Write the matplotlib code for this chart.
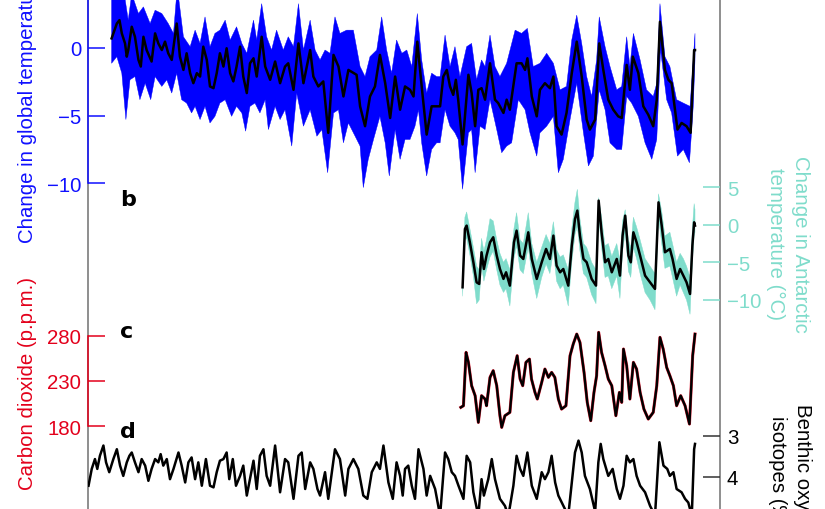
import numpy as np
import matplotlib
matplotlib.use('Agg')
import matplotlib.pyplot as plt

plt.rcParams['font.family'] = ['Liberation Sans', 'DejaVu Sans']

# ---------------- data (ages in kyr before present) ----------------
# a: global temperature change (deg C), mean and 95% band
glob_age = [1998,1980,1971,1963,1952,1946,1941,1929,1918,1906,1898,1889,1878,1861,1849,1838,1826,1815,1804,1792,
            1775,1764,1752,1741,1729,1718,1706,1695,1684,1672,1661,1649,1638,1627,1615,1604,1592,1581,1570,1558,
            1547,1535,1524,1512,1501,1484,1472,1455,1438,1421,1404,1393,1375,1358,1341,1318,1307,1290,1273,1256,
            1238,1221,1204,1187,1159,1147,1130,1113,1096,1079,1061,1044,1027,1010,993,976,964,951,936,919,
            902,885,
            873,862,850,839,828,819,811,796,776,765,753,742,731,719,702,685,674,656,645,634,
            611,594,582,574,559,542,531,514,497,485,474,457,440,422,405,388,371,360,342,328,
            314,297,280,263,251,234,223,213,194,177,160,143,131,120,103,91,80,60,46,29,
            15,3,0]
glob_mean = [0.71,1.81,2.06,1.08,0.34,-0.64,-0.15,1.57,0.83,-0.88,-1.37,0.83,-0.15,-1.0,1.08,0.34,-0.15,0.47,-0.39,-0.88,
             1.81,-0.64,-1.62,-0.39,-1.86,-2.6,-1.86,-2.11,0.1,-0.88,-2.84,-2.97,-1.86,-0.39,-1.37,-0.02,-1.86,-2.47,-1.37,0.1,
             -2.11,-3.33,-1.13,-0.76,-2.11,0.83,-1.37,-2.35,-1.0,-2.6,-1.37,-1.13,-3.09,0.34,-2.6,-0.15,-2.11,-2.84,-2.47,-6.27,
             -0.51,-1.37,-3.58,-1.62,-1.98,-4.31,-5.78,-3.58,-2.84,-0.51,-2.6,-5.17,-2.11,-4.56,-2.84,-3.09,-3.58,0.47,-2.84,-6.4,
             -4.31,-4.31,
             -4.31,-2.11,-1.62,-2.84,-3.46,-2.35,-3.82,-7.13,-1.98,-3.33,-5.78,-3.09,-2.97,-3.82,-1.13,-3.82,-4.07,-4.8,-3.82,-4.56,
             -1.13,-1.13,-1.62,-0.76,-3.58,-5.05,-3.09,-2.6,-2.97,-2.11,-5.78,-6.4,-4.8,-1.86,0.47,-2.11,-5.29,-6.03,-5.29,0.34,
             -1.62,-3.82,-4.56,-5.05,-5.17,-1.25,-3.09,-0.64,-1.86,-4.31,-4.93,-5.78,-3.82,1.94,-1.62,-2.35,-2.6,-6.03,-5.54,-5.78,
             -6.27,-0.15,-0.15]
glob_hi_age = [1998,1992,1958,1941,1929,1906,1889,1866,1849,1826,1804,1786,1773,1752,1729,1712,1695,1678,1661,1644,
               1627,1609,1592,1570,1552,1535,1512,1501,1484,1467,1450,1433,1410,1393,1375,1358,1341,1318,1301,1284,
               1267,1250,1233,1216,1193,1170,1147,1130,1113,1090,1073,1056,1039,1022,1004,987,970,951,936,919,
               902,885,
               873,856,839,822,805,782,765,748,731,719,702,685,668,645,616,594,574,554,531,508,
               485,462,440,422,405,388,371,354,337,328,308,291,268,251,234,223,211,188,166,143,
               131,120,103,86,63,40,17,0]
glob_hi = [4.0,4.5,4.5,2.06,4.0,2.55,3.04,1.81,2.79,2.55,1.81,1.08,4.5,0.83,0.1,1.32,0.34,2.3,0.1,1.08,
           1.32,2.06,0.59,1.57,0.34,-0.39,2.06,0.59,3.28,0.83,-0.15,1.32,-0.15,0.83,0.1,3.28,-0.15,2.06,-0.15,-0.88,
           -0.15,-0.39,2.3,1.08,1.32,1.32,-1.37,-2.11,-0.64,-0.15,2.3,-0.15,-1.86,0.59,-0.39,-0.15,-1.37,2.55,-0.88,-3.33,
           -1.86,-2.11,
           -2.11,0.96,-1.37,0.1,-2.11,0.1,0.34,-2.35,-0.88,-1.37,0.96,-1.37,-2.11,-1.13,1.32,1.08,1.45,-1.37,-1.13,-0.39,
           -1.13,-3.09,-2.84,0.59,2.43,0.34,-2.11,-3.58,-0.88,2.3,0.1,-1.37,-3.09,-2.84,0.83,-1.37,1.08,-0.88,-3.09,-3.58,
           -2.6,3.28,-0.64,-1.37,-3.82,-4.07,-4.31,1.08]
glob_lo_age = [1998,1980,1963,1949,1935,1918,1901,1883,1864,1849,1826,1809,1792,1775,1758,1741,1724,1712,1695,1678,
               1661,1644,1627,1609,1587,1570,1552,1539,1524,1507,1490,1472,1461,1438,1421,1404,1381,1364,1341,1318,
               1295,1278,1258,1238,1221,1204,1187,1164,1147,1136,1119,1101,1079,1061,1047,1027,1010,993,976,959,
               947,936,919,902,885,
               873,856,839,822,811,796,776,765,753,736,719,702,679,662,645,628,605,582,565,542,
               531,508,485,468,451,428,405,382,365,348,328,308,291,268,251,234,217,194,171,148,
               131,118,97,80,60,40,19,6,0]
glob_lo = [-1.13,-0.64,-1.86,-5.29,-2.35,-2.11,-3.82,-2.6,-3.82,-2.11,-2.84,-2.35,-3.33,-1.86,-3.82,-4.07,-4.8,-4.31,-5.29,-4.31,
           -5.54,-5.05,-4.07,-3.82,-5.05,-4.31,-4.8,-6.15,-4.31,-4.07,-4.8,-3.82,-6.03,-4.31,-5.29,-4.56,-7.25,-3.33,-5.78,-4.56,
           -6.52,-6.03,-9.22,-4.8,-4.56,-7.01,-5.54,-6.52,-7.25,-10.32,-8.23,-6.76,-5.05,-7.01,-9.46,-6.03,-8.23,-6.76,-6.76,-5.78,
           -4.56,-7.01,-9.46,-7.5,-7.01,
           -7.01,-4.56,-5.78,-6.27,-6.76,-10.44,-6.27,-6.03,-9.22,-5.78,-6.03,-3.82,-6.03,-7.74,-7.25,-7.01,-3.82,-4.56,-6.27,-7.99,
           -6.27,-5.78,-5.05,-9.22,-8.23,-5.29,-2.6,-6.27,-8.72,-7.99,-3.09,-4.56,-7.01,-7.5,-7.5,-3.58,-4.07,-5.05,-7.01,-8.23,
           -6.76,-0.15,-3.82,-4.8,-7.99,-7.5,-8.48,-4.31,-0.88]

# b: Antarctic temperature change (deg C)
ant_age = [796,788,782,771,759,748,739,731,723,714,702,691,679,668,656,647,634,620,611,599,
           588,571,559,542,525,510,497,485,474,462,451,434,422,411,403,394,382,371,354,339,
           330,320,308,297,285,268,257,248,239,228,220,211,200,188,171,154,137,125,114,103,
           86,77,63,51,40,29,17,9,3,0]
ant_mean = [-8.31,-0.57,-0.12,-2.34,-4.99,-7.65,-7.87,-3.66,-5.88,-4.11,-2.34,-1.67,-4.11,-5.88,-7.2,-6.32,-8.09,-2.34,-0.79,-4.11,
            -4.55,-1.01,-4.55,-7.2,-4.99,-3.22,-4.55,-1.45,-5.43,-6.32,-5.88,-8.09,-2.78,0.76,1.87,-1.45,-4.55,-4.99,-7.2,-8.09,
            3.2,-1.01,-4.99,-4.55,-6.32,-4.55,-6.76,-1.45,1.2,-4.11,-4.99,-1.01,-2.34,-4.11,-6.76,-7.65,-8.53,2.97,-0.12,-3.66,
            -3.22,-4.55,-7.2,-5.88,-6.76,-7.65,-9.2,-2.78,0.32,-0.12]
ant_hi = [-7.0,1.0,1.7,-0.5,-3.0,-5.5,-6.0,-1.8,-3.5,-2.0,0.8,0.5,-2.0,-3.8,-5.0,-4.5,-6.0,-0.5,1.6,-2.0,
          -2.5,1.6,-2.5,-5.0,-3.0,-1.3,-2.5,0.4,-3.3,-4.3,-4.0,-6.0,-0.5,3.0,4.7,0.8,-2.5,-3.0,-5.0,-6.0,
          3.6,1.0,-2.8,-2.5,-4.2,-2.5,-4.7,0.5,2.0,-2.0,-3.0,1.0,-0.3,-2.0,-4.5,-5.5,-6.5,4.1,1.8,-1.5,
          -1.0,-2.5,-5.0,-3.8,-4.5,-5.5,-7.0,-0.5,2.8,2.0]
ant_lo = [-9.5,-2.0,-1.8,-4.0,-6.8,-10.5,-10.0,-5.5,-7.5,-6.0,-4.3,-3.5,-6.0,-8.0,-9.0,-8.5,-10.8,-4.5,-2.8,-6.0,
          -6.5,-3.0,-6.5,-9.8,-7.0,-5.2,-6.5,-3.5,-7.5,-8.5,-8.0,-10.8,-5.0,-1.3,-0.2,-3.5,-6.5,-7.0,-9.3,-10.5,
          1.0,-3.0,-7.0,-6.8,-8.5,-6.8,-9.8,-3.5,-1.0,-6.2,-7.0,-3.0,-4.5,-6.5,-9.0,-10.0,-11.3,1.0,-2.5,-5.8,
          -5.5,-7.0,-9.5,-8.0,-9.0,-10.0,-11.9,-5.0,-1.5,-1.0]

# c: carbon dioxide (p.p.m.)
co2_age = [802,793,784,776,765,753,742,731,719,714,702,691,679,668,662,651,634,622,609,599,
           590,579,567,560,548,540,525,514,502,491,480,468,457,442,428,417,405,394,380,369,
           357,346,337,330,320,308,297,285,271,259,251,245,234,223,211,200,188,175,160,143,
           131,120,109,97,86,74,63,49,34,19,8,0]
co2 = [200.9,202.7,261.6,250.6,224.8,213.8,184.3,213.8,210.1,202.7,234,241.4,224.8,191.7,178.8,191.7,195.4,239.5,257.9,232.2,
       224.8,250.6,254.2,232.2,217.4,210.1,228.5,243.2,234,239.5,234,210.1,199,202.7,257.9,270.8,281.8,272.6,239.5,206.4,
       186.2,217.4,235.8,283.7,261.6,246.9,232.2,224.8,191.7,217.4,206.4,265.3,246.9,210.1,250.6,243.2,217.4,199,188,195.4,
       224.8,278.2,265.3,245,235.8,224.8,202.7,213.8,202.7,182.5,257.9,281.8]

# d: benthic oxygen isotopes (per mil)
d18o_age = [2077,2066,2055,2047,2038,2026,2017,2006,1992,1980,1969,1958,1946,1937,1929,1918,1906,1895,1883,1872,
            1861,1849,1838,1830,1821,1809,1798,1786,1769,1758,1746,1735,1724,1712,1701,1689,1675,1661,1649,1638,
            1627,1615,1604,1595,1583,1572,1558,1547,1535,1524,1512,1501,1490,1478,1467,1455,1438,1421,1404,1393,
            1375,1358,1347,1335,1318,1307,1293,1284,1267,1256,1233,1216,1198,1187,1170,1153,1136,1122,1107,1090,
            1079,1067,1050,1035,1022,1010,1001,993,982,970,959,947,930,919,
            907,890,873,856,845,833,822,810,793,782,770,759,742,731,723,708,696,685,668,651,
            639,622,611,599,588,574,559,542,525,514,502,491,479,468,451,434,422,411,399,388,
            377,360,342,331,323,314,297,282,268,257,245,234,223,211,200,188,171,154,137,122,
            108,95,86,74,63,46,34,23,11,3,0]
d18o = [4.22,3.81,3.57,3.81,3.49,3.24,3.65,3.89,3.57,3.33,3.73,3.98,3.65,3.49,3.41,3.65,3.89,3.57,3.73,4.1,
        3.81,3.57,3.65,3.45,3.73,3.57,4.06,3.81,3.41,3.73,4.14,3.65,3.53,4.06,3.65,4.22,3.57,4.22,4.26,3.89,
        3.61,3.57,3.41,4.06,3.57,4.22,3.98,3.73,4.46,4.06,3.61,4.3,3.49,3.33,3.98,4.22,3.24,4.38,3.57,3.65,
        4.54,3.49,3.41,4.3,3.65,3.81,4.3,4.46,3.89,4.54,3.33,3.57,4.46,3.81,3.57,3.81,4.46,4.54,3.89,3.65,
        3.81,3.24,4.14,4.54,3.65,3.98,4.46,3.81,3.73,4.22,4.54,3.33,3.81,4.46,
        3.98,4.3,4.95,3.41,3.57,3.89,3.98,4.22,4.54,3.49,3.65,4.38,4.95,4.06,4.46,4.06,3.57,4.06,4.54,4.71,
        4.95,4.22,3.49,3.81,3.98,3.41,4.22,4.54,3.89,4.06,3.89,3.49,4.14,4.46,4.71,4.95,4.14,3.41,3.12,3.41,
        3.98,4.3,4.85,3.65,3.2,3.57,3.98,3.81,4.3,4.54,4.22,3.49,3.65,3.57,3.98,4.22,4.38,4.71,4.95,3.16,
        3.73,3.81,3.98,3.89,4.3,4.38,4.54,4.63,4.95,3.33,3.2]

# ---------------- styling ----------------
BLUE = '#1010ff'
BAND_BLUE = '#0000ff'
TEAL = '#7fdccb'
RED = '#e3001b'
GRAY = '#707070'
FS = 14.7

W, H = 825, 510
fig = plt.figure(figsize=(W / 100, H / 100), dpi=100)

X0, X1 = 88, 720
AGE_L, AGE_R = 2078.8, -85.6
RECT = [X0 / W, -0.2, (X1 - X0) / W, 1.2]
PY_BOT = 612.0


def make_ax(v0, py0, ppu, sign=1):
    ax = fig.add_axes(RECT, facecolor='none')
    ax.set_xlim(AGE_L, AGE_R)
    ax.set_ylim(v0 + sign * (py0 - PY_BOT) / ppu, v0 + sign * py0 / ppu)
    for s in ax.spines.values():
        s.set_visible(False)
    ax.set_xticks([])
    ax.tick_params(axis='y', left=False, right=False, labelleft=False, labelright=False)
    return ax


# base frame (grey vertical axes lines)
ax0 = make_ax(0, 0, 1)
for side in ('left', 'right'):
    ax0.spines[side].set_visible(True)
    ax0.spines[side].set_color(GRAY)
    ax0.spines[side].set_linewidth(1.1)
ax0.set_yticks([])

tick_kw = dict(direction='in', length=12.2, width=1.1, pad=5.0, labelsize=FS)

# a: global temperature
axa = make_ax(0, 49, 13.53)
axa.fill(glob_hi_age + glob_lo_age[::-1], glob_hi + glob_lo[::-1], color=BAND_BLUE, lw=0.3, ec=BAND_BLUE)
axa.plot(glob_age, glob_mean, color='black', lw=1.8, solid_joinstyle='round')
axa.spines['left'].set_visible(True)
axa.spines['left'].set_color(BLUE)
axa.spines['left'].set_linewidth(1.1)
axa.spines['left'].set_bounds(-10, 10)
axa.set_yticks([-10, -5, 0])
axa.tick_params(axis='y', left=True, labelleft=True, colors=BLUE, **tick_kw)

# b: Antarctic temperature
axb = make_ax(0, 225.7, 7.53)
axb.fill(ant_age + ant_age[::-1], ant_hi + ant_lo[::-1], color=TEAL, lw=0.3, ec=TEAL)
axb.plot(ant_age, ant_mean, color='black', lw=1.8, solid_joinstyle='round')
axb.set_yticks([-10, -5, 0, 5])
axb.tick_params(axis='y', right=True, labelright=True, colors=TEAL, **tick_kw)

# c: CO2
axc = make_ax(280, 336.7, 0.906)
axc.plot(co2_age, co2, color=RED, lw=2.2, alpha=0.85)
axc.plot(co2_age, co2, color='black', lw=1.7)
axc.spines['left'].set_visible(True)
axc.spines['left'].set_color(RED)
axc.spines['left'].set_linewidth(1.1)
axc.spines['left'].set_bounds(180, 280)
axc.set_yticks([180, 230, 280])
axc.tick_params(axis='y', left=True, labelleft=True, colors=RED, **tick_kw)

# d: benthic d18O (inverted)
axd = make_ax(3, 436.7, 41, sign=-1)
axd.plot(d18o_age, d18o, color='black', lw=1.8, solid_joinstyle='round')
axd.set_yticks([3, 4, 5])
axd.tick_params(axis='y', right=True, labelright=True, colors='black', **tick_kw)
axd.tick_params(axis='y', color='#333333')

# axis titles
fig.text(27.5 / W, 1 - 243 / H, 'Change in global temperature (°C)', rotation=90,
         ha='center', va='bottom', color=BLUE, fontsize=FS)
fig.text(27.5 / W, 1 - 383.5 / H, 'Carbon dioxide (p.p.m.)', rotation=90,
         ha='center', va='center', color=RED, fontsize=FS)
fig.text(788 / W, 1 - 244 / H, 'Change in Antarctic\ntemperature (°C)', rotation=270,
         ha='center', va='center', multialignment='center', color=TEAL, fontsize=FS, linespacing=1.38)
fig.text(790 / W, 1 - 474 / H, 'Benthic oxygen\nisotopes (‰)', rotation=270,
         ha='center', va='center', multialignment='center', color='black', fontsize=FS, linespacing=1.38)

# panel letters
for letter, yb in (('b', 206), ('c', 338), ('d', 438)):
    fig.text(120 / W, 1 - yb / H, letter, ha='left', va='baseline', fontsize=16,
             fontweight='heavy', family='DejaVu Sans', color='black')

fig.savefig('out.png', dpi=100)
